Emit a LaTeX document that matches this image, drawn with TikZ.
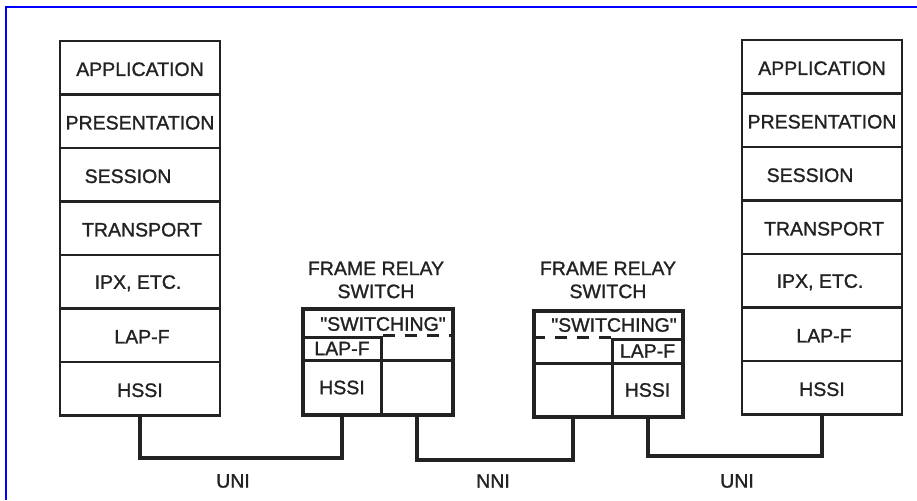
\documentclass[tikz,border=0pt]{standalone}
\usepackage{fontspec}
\setmainfont{Liberation Sans}[FakeBold=1.2]
\usepackage{tikz}
\usetikzlibrary{positioning,calc}
\definecolor{ink}{HTML}{222222}

\begin{document}
\begin{tikzpicture}[x=1pt,y=-1pt,font=\fontsize{19.5}{23}\selectfont,text=ink,
  layer/.style={draw=ink,line width=2.4pt,minimum width=160pt,minimum height=53.5pt,inner sep=0pt},
  cell/.style={draw=ink,line width=3pt,inner sep=0pt},
  swbox/.style={draw=ink,line width=4pt,inner sep=0pt,minimum height=106pt},
  link/.style={draw=ink,line width=4pt},
  dashline/.style={draw=ink,line width=3pt,dash pattern=on 12pt off 10pt}]
  \useasboundingbox (0,0) rectangle (917,500);
  \draw[blue,line width=2pt] (6,500) -- (6,7) -- (917,7);
  % end stations: L = left stack, R = right stack, \d = text offset
  \foreach \i/\t/\d in {1/APPLICATION/0,2/PRESENTATION/0,3/SESSION/-12,4/TRANSPORT/2,5/{IPX, ETC.}/-2,6/LAP-F/2,7/HSSI/0}{
    \node[layer] (L\i) at (140,{41+53.5*(\i-0.5)}) {};
    \node[layer] (R\i) at (822,{40+53.5*(\i-0.5)}) {};
    \node[xshift=\d pt,yshift=-1.5pt] (tL\i) at (L\i) {\t};
    \node[xshift=\d pt,yshift=-1.5pt] (tR\i) at (R\i) {\t};}
  % switch 1
  \node[swbox,minimum width=150pt] (fr1) at (378,362) {};
  \node[cell,minimum width=78pt,minimum height=23pt] (lap1) at (342,348.5) {LAP-F};
  \node[cell,minimum width=78pt,minimum height=55pt] (hs1) at (342,387.5) {HSSI};
  \node[cell,minimum width=72pt,minimum height=55pt] (bk1) at (417,387.5) {};
  \draw[dashline] (lap1.north east) -- (lap1.north east -| fr1.east);
  \node (sw1) at (383,324) {\textquotedbl SWITCHING\textquotedbl};
  \node[align=center] (t1) at (376,280) {FRAME RELAY\\SWITCH};
  % switch 2
  \node[swbox,minimum width=149pt] (fr2) at (608.5,364) {};
  \node[cell,minimum width=71pt,minimum height=24pt] (lap2) at (647.5,351) {LAP-F};
  \node[cell,minimum width=71pt,minimum height=54pt] (hs2) at (647.5,390) {HSSI};
  \node[cell,minimum width=78pt,minimum height=54pt] (bk2) at (573,390) {};
  \draw[dashline] (lap2.north west) -- (lap2.north west -| fr2.west);
  \node (sw2) at (614,325) {\textquotedbl SWITCHING\textquotedbl};
  \node[align=center] (t2) at (608,280) {FRAME RELAY\\SWITCH};
  % links
  \draw[link] (L7.south) -- ++(0,41) -| (hs1.south);
  \draw[link] (bk1.south) -- ++(0,43) -| (bk2.south);
  \draw[link] (hs2.south) -- ++(0,37) -| (R7.south);
  \node (uni1) at (233,481) {UNI};
  \node (nni) at (493,481) {NNI};
  \node (uni2) at (737,481) {UNI};
\end{tikzpicture}
\end{document}
